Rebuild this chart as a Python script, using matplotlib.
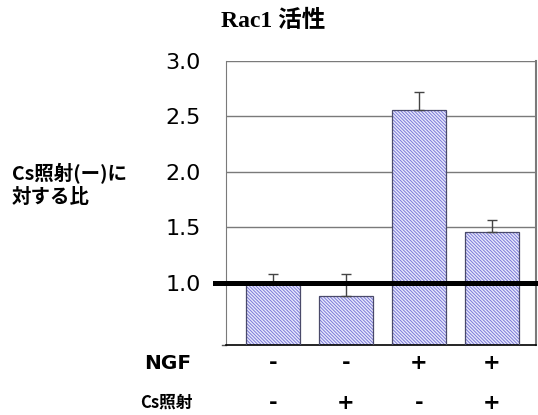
import matplotlib
matplotlib.use("Agg")
import matplotlib.pyplot as plt
from matplotlib.transforms import blended_transform_factory

# Data
conditions = ["NGF-/Cs-", "NGF-/Cs+", "NGF+/Cs-", "NGF+/Cs+"]
ratio = [1.00, 0.88, 2.56, 1.46]
err_upper = [0.08, 0.20, 0.16, 0.11]
ngf_signs = ["-", "-", "+", "+"]
cs_signs = ["-", "+", "-", "+"]
yticks = [1.0, 1.5, 2.0, 2.5, 3.0]

plt.rcParams["hatch.linewidth"] = 0.7
CJK = ["Noto Sans CJK JP", "DejaVu Sans"]

fig = plt.figure(figsize=(5.38, 4.15), dpi=100)
ax = fig.add_axes([0.420, 0.169, 0.576, 0.684])

x = list(range(len(ratio)))
ax.set_xlim(-0.64, 3.6)
ax.set_ylim(0.44, 3.0)

# grid
for yv in [1.5, 2.0, 2.5, 3.0]:
    ax.axhline(yv, color="#7a7a7a", lw=1.0, zorder=1)

# hatched bars
ax.bar(x, ratio, width=0.74, color="#eaeafc", edgecolor="#7a7ad8",
       hatch="\\" * 10, linewidth=0, zorder=2)
ax.bar(x, ratio, width=0.74, fill=False, edgecolor="#4a4a6a",
       linewidth=0.9, zorder=3)
ax.errorbar(x, ratio, yerr=[[0] * len(ratio), err_upper], fmt="none",
            ecolor="#444444", elinewidth=1.0, capsize=3.5, capthick=1.0,
            zorder=4)

# reference line at 1.0
ax.axhline(1.0, xmin=-0.035, xmax=1.0, color="black", lw=3.6,
           clip_on=False, zorder=5)

ax.set_yticks(yticks)
ax.set_yticklabels([f"{v:.1f}" for v in yticks], fontsize=16,
                   family="DejaVu Sans")
ax.tick_params(axis="y", length=0, pad=18)
ax.set_xticks([])
ax.plot([-0.013, 0], [0.44, 0.44], transform=ax.get_yaxis_transform(),
        color="#555555", lw=1, clip_on=False)

ax.spines["top"].set_visible(False)
ax.spines["left"].set_color("#7a7a7a")
ax.spines["right"].set_color("#7a7a7a")
ax.spines["right"].set_linewidth(1.5)
ax.spines["bottom"].set_color("black")
ax.spines["bottom"].set_linewidth(1.2)

# title
fig.text(0.508, 0.950, "Rac1 活性", ha="center", va="center", fontsize=17,
         fontweight="bold", family=["Liberation Serif", "Noto Sans CJK JP"])

# y-axis label
fig.text(0.022, 0.555, "Cs照射(ー)に\n対する比", ha="left", va="center",
         fontsize=14, fontweight="bold", family=CJK, linespacing=1.25)

# condition rows
y_ngf = 1 - 363 / 415
y_cs = 1 - 403 / 415
fig.text(0.268, y_ngf, "NGF", ha="left", va="center", fontsize=14.5,
         fontweight="bold", family="DejaVu Sans")
fig.text(0.260, y_cs, "Cs照射", ha="left", va="center", fontsize=12,
         fontweight="bold", family=CJK)
trans = blended_transform_factory(ax.transData, fig.transFigure)
for i in x:
    ax.text(i, y_ngf, ngf_signs[i], transform=trans, ha="center",
            va="center", fontsize=15, fontweight="bold")
    ax.text(i, y_cs, cs_signs[i], transform=trans, ha="center",
            va="center", fontsize=15, fontweight="bold")

fig.savefig("out.png", dpi=100)
